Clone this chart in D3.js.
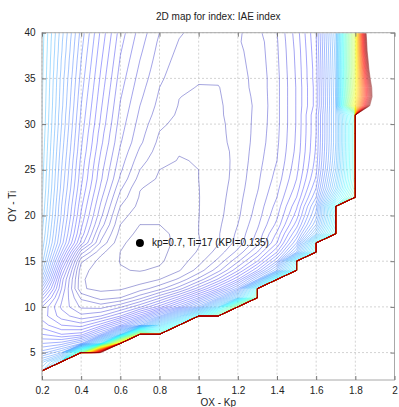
<!DOCTYPE html>
<html><head><meta charset="utf-8">
<script src="https://cdn.jsdelivr.net/npm/d3@7"></script>
<style>
body{margin:0;background:#fff;}
text{font-family:"Liberation Sans",Arial,Helvetica,sans-serif;}
</style></head><body>
<svg id="chart" width="399" height="407"></svg>
<script>
// Grid axes of the map
const kpGrid = [0.2,0.3,0.4,0.5,0.6,0.7,0.8,0.9,1.0,1.1,1.2,1.3,1.4,1.5,1.6,1.7,1.8,1.9,2.0];
const tiGrid = d3.range(2, 41, 1);
// KPI (IAE) values in thousandths, one row per Ti (2 .. 40), one column per kp; null = unstable
const kpiGrid = [
/* 2*/[null,null,null,null,null,null,null,null,null,null,null,null,null,null,null,null,null,null,null],
/* 3*/[360,null,null,null,null,null,null,null,null,null,null,null,null,null,null,null,null,null,null],
/* 4*/[335,390,null,null,null,null,null,null,null,null,null,null,null,null,null,null,null,null,null],
/* 5*/[295,320,510,930,null,null,null,null,null,null,null,null,null,null,null,null,null,null,null],
/* 6*/[270,275,300,400,680,null,null,null,null,null,null,null,null,null,null,null,null,null,null],
/* 7*/[250,240,245,285,370,580,490,null,null,null,null,null,null,null,null,null,null,null,null],
/* 8*/[235,220,215,235,270,320,390,460,null,null,null,null,null,null,null,null,null,null,null],
/* 9*/[226,205,193,200,220,255,300,360,430,510,null,null,null,null,null,null,null,null,null],
/*10*/[230,198,178,176,188,208,235,270,315,390,550,null,null,null,null,null,null,null,null],
/*11*/[255,202,168,156,160,176,198,225,260,305,370,510,null,null,null,null,null,null,null],
/*12*/[285,210,151,147.5,148.5,155,166,185,215,250,295,430,null,null,null,null,null,null,null],
/*13*/[315,215,151,146,143,144.5,150,162,183,212,250,310,450,null,null,null,null,null,null],
/*14*/[335,230,153,145.5,140.5,139.5,141.5,149,164,186,218,260,320,450,null,null,null,null,null],
/*15*/[345,250,162,146,139.7,137,138.5,145,156,173,198,230,280,430,null,null,null,null,null],
/*16*/[352,270,185,153,139.9,136,137.5,143.5,151,164,183,210,250,320,450,null,null,null,null],
/*17*/[357,285,216,168,142,135,137,142,149,159,174,196,230,290,430,null,null,null,null],
/*18*/[361,290,227,176,146,137,138,142,150,159,172,192,222,270,350,460,null,null,null],
/*19*/[364,294,233,186,150,140,140,143,150,158,170,188,213,255,320,440,null,null,null],
/*20*/[367,298,238,193,154,144,141.5,143,149.8,157,168,185,208,245,305,430,null,null,null],
/*21*/[369,300,242,198,160,147,143.5,144,149.7,156.5,167,183,204,238,295,450,null,null,null],
/*22*/[371,303,246,203,166,149,145.5,145,149.7,156,166,181,200,230,280,400,510,null,null],
/*23*/[373,306,250,208,172,150.5,147,146,149.8,155.5,165,179,197,224,270,370,490,null,null],
/*24*/[374,308,253,212,178,156,148.5,147,150,155,164,178,194,220,262,360,480,null,null],
/*25*/[375,310,255,214,182,160,150,148.5,150,155,163.5,177,192,217,257,350,480,null,null],
/*26*/[376,312,257,217,185,164,153,149.5,150.5,155.5,163,176,190,215,254,345,480,null,null],
/*27*/[377,314,260,220,188,168,155.5,150.5,151,156,163,175,189,213,252,342,480,null,null],
/*28*/[378,316,262,223,191,172,157.5,154,153.5,157.5,163,174,188,212,251,340,480,null,null],
/*29*/[379,318,264,225,193,174,159.5,155.5,154.5,158,163,173.5,187.5,211.5,250,340,480,null,null],
/*30*/[380,320,266,228,195,176,162,157,155.5,158,163.5,173,187,211,250,340,480,null,null],
/*31*/[380.5,321,268,230,197,178,165,158.5,156.5,158.5,164,172.5,187,211,250,340,490,null,null],
/*32*/[381,323,270,232,199,180,167,159.5,157.5,158.5,164.5,172,187,211,245,340,650,1030,null],
/*33*/[381.5,324,272,234,201,182,168.5,160.2,158.5,159,165,172.5,187,211,245,341,630,980,null],
/*34*/[382,325,274,236,203,184,170,162,159.5,159.5,166,173,187,211,245,342,620,990,null],
/*35*/[382.5,326,276,238,205,186,172,163.5,161,161.5,166.5,173,187,211.5,246,343,615,1030,null],
/*36*/[383,328,278,240,207,188,173.5,165,162.5,162.5,167,173.5,187.5,212,246,344,610,1070,null],
/*37*/[383.5,329,280,242,209,190,175,166.5,164,163.5,167.5,174,188,212.5,247,345,610,1100,null],
/*38*/[384,331,282,244,211,192,176.5,168,165,164.5,168,174.5,188.5,213,248,346,610,1140,null],
/*39*/[384.5,332,284,246,213,194,178,169.5,166,165.5,169,175,189,214,249,348,610,1160,null],
/*40*/[385,334,286,248,215,196,180,171,167,166.5,168,177,190,215,250,350,610,1190,null]
];
const contourLevels = d3.range(140, 931, 10);
const xTicks = [0.2,0.4,0.6,0.8,1,1.2,1.4,1.6,1.8,2];
const yTicks = [5,10,15,20,25,30,35,40];
const optimum = {kp:0.7, ti:17, kpi:0.135};

const svg = d3.select("#chart");
const L = 42, R = 394.5, T = 32.7, B = 380;
const x = d3.scaleLinear().domain([0.2, 2]).range([L, R]);
const y = d3.scaleLinear().domain([2, 40]).range([B, T]);

// title
svg.append("text").attr("x", (L+R)/2).attr("y", 20).attr("text-anchor","middle")
  .attr("font-size", 10).attr("fill","#222").text("2D map for index: IAE index");

// grid
const grid = svg.append("g");
grid.selectAll(".gx").data(xTicks).join("line")
  .attr("x1", d=>x(d)).attr("x2", d=>x(d)).attr("y1", T).attr("y2", B)
  .attr("stroke","#c8c8c8").attr("stroke-dasharray","2,2").attr("stroke-width",0.8);
grid.selectAll(".gy").data(yTicks).join("line")
  .attr("y1", d=>y(d)).attr("y2", d=>y(d)).attr("x1", L).attr("x2", R)
  .attr("stroke","#c8c8c8").attr("stroke-dasharray","2,2").attr("stroke-width",0.8);

// contours
const nx = kpGrid.length, ny = tiGrid.length;
const flat = [];
for (let j = 0; j < ny; j++) for (let i = 0; i < nx; i++) {
  const v = kpiGrid[j][i];
  flat.push(v == null ? 1e6 : v);
}
const contours = d3.contours().size([nx, ny]).thresholds(contourLevels)(flat);
const gx = d3.scaleLinear().domain([0.5, nx - 0.5]).range([kpGrid[0], kpGrid[nx-1]]);
const gy = d3.scaleLinear().domain([0.5, ny - 0.5]).range([tiGrid[0], tiGrid[ny-1]]);
const proj = d3.geoTransform({ point(px, py) { this.stream.point(x(gx(px)), y(gy(py))); } });
const path = d3.geoPath(proj);
const jet = d3.scaleLinear().domain([0, 0.125, 0.375, 0.625, 0.875, 1])
  .range(["#00008f", "#0000ff", "#00ffff", "#ffff00", "#ff0000", "#800000"]);
const lo = contourLevels[0], hi = contourLevels[contourLevels.length - 1];

svg.append("clipPath").attr("id","clip").append("rect")
  .attr("x", L+0.5).attr("y", T+0.5).attr("width", R-L-1).attr("height", B-T-1);
svg.append("g").attr("clip-path","url(#clip)")
  .selectAll("path").data(contours).join("path")
  .attr("d", path)
  .attr("fill","none")
  .attr("stroke", d => jet((d.value - lo) / (hi - lo)))
  .attr("stroke-opacity", 0.4)
  .attr("stroke-width", 0.9);

// frame & axes
svg.append("rect").attr("x", L).attr("y", T).attr("width", R-L).attr("height", B-T)
  .attr("fill","none").attr("stroke","#a8a8a8").attr("stroke-width",1);
const fmt = d3.format("~g");
const ax = svg.append("g").attr("transform", `translate(0,${B})`)
  .call(d3.axisBottom(x).tickValues(xTicks).tickFormat(fmt).tickSize(-4).tickPadding(6.5));
const axT = svg.append("g").attr("transform", `translate(0,${T})`)
  .call(d3.axisTop(x).tickValues(xTicks).tickFormat("").tickSize(-4));
const ay = svg.append("g").attr("transform", `translate(${L},0)`)
  .call(d3.axisLeft(y).tickValues(yTicks).tickFormat(fmt).tickSize(-4).tickPadding(6.5));
const ayR = svg.append("g").attr("transform", `translate(${R},0)`)
  .call(d3.axisRight(y).tickValues(yTicks).tickFormat("").tickSize(-4));
[ax, axT, ay, ayR].forEach(g => {
  g.select(".domain").remove();
  g.selectAll(".tick line").attr("stroke","#777");
  g.selectAll(".tick text").attr("font-size",10).attr("fill","#222")
    .attr("font-family",'"Liberation Sans",Arial,sans-serif');
});

// axis titles
svg.append("text").attr("x", (L+R)/2).attr("y", 406).attr("text-anchor","middle")
  .attr("font-size",10).attr("fill","#222").text("OX - Kp");
svg.append("text").attr("transform", `translate(16,${(T+B)/2}) rotate(-90)`)
  .attr("text-anchor","middle").attr("font-size",10).attr("fill","#222").text("OY - Ti");

// optimum marker
svg.append("circle").attr("cx", x(optimum.kp)).attr("cy", y(optimum.ti)).attr("r", 4).attr("fill","#000");
svg.append("text").attr("x", x(optimum.kp) + 12).attr("y", y(optimum.ti) + 3.5)
  .attr("font-size",10).attr("fill","#111")
  .text(`kp=${optimum.kp}, Ti=${optimum.ti} (KPI=${optimum.kpi})`);
</script>
</body></html>
